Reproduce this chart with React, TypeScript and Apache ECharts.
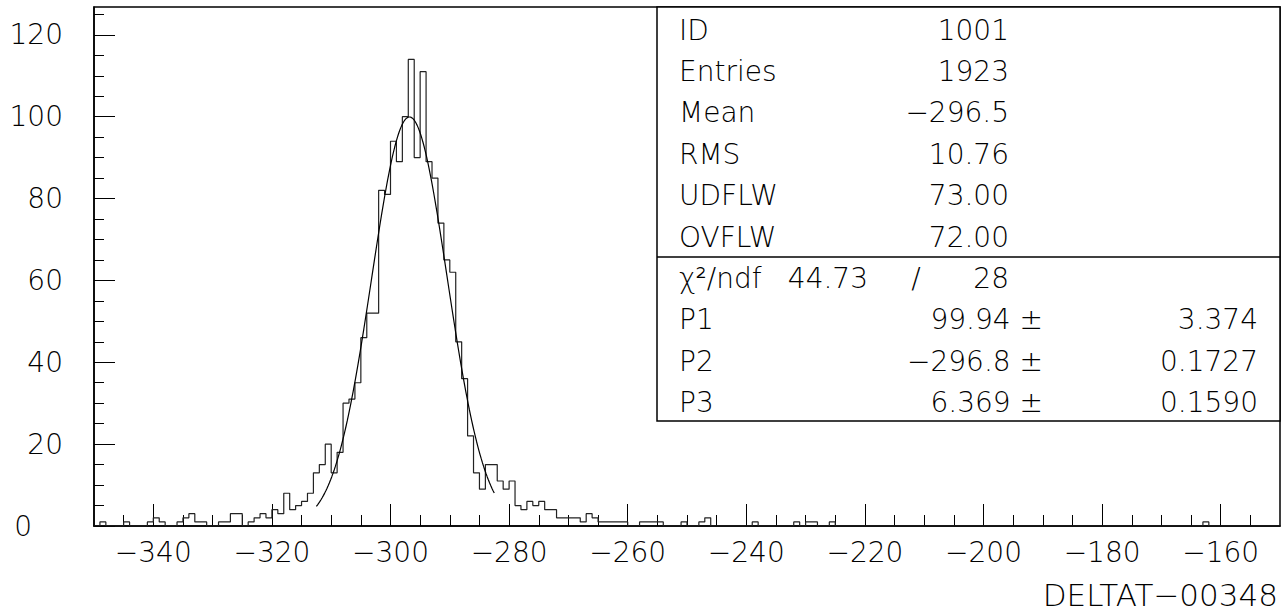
import React, { useEffect, useRef } from "react";
import * as echarts from "echarts";

const X_MIN = -350;
const X_MAX = -150;
const BIN_WIDTH = 1;
const Y_MAX = 126.8;

// bin contents, one per unit bin from -350 to -150
const counts = [
  0, 1, 0, 0, 0, 1, 0, 0, 0, 1,
  2, 1, 0, 0, 1, 2, 3, 1, 1, 0,
  0, 1, 1, 3, 3, 0, 1, 2, 3, 2,
  4, 3, 8, 4, 5, 6, 8, 13, 15, 20,
  13, 18, 30, 31, 35, 46, 52, 52, 82, 81,
  94, 89, 100, 114, 90, 111, 89, 85, 74, 65,
  62, 45, 36, 22, 13, 9, 15, 15, 11, 9,
  11, 5, 4, 6, 5, 6, 4, 4, 2, 2,
  2, 2, 1, 3, 2, 1, 1, 1, 1, 1,
  0, 0, 1, 1, 1, 1, 0, 0, 0, 1,
  0, 0, 1, 2, 0, 0, 0, 0, 0, 0,
  0, 1, 0, 0, 0, 0, 0, 0, 1, 0,
  1, 1, 0, 0, 1, 0, 0, 0, 0, 0,
  0, 0, 0, 0, 0, 0, 0, 0, 0, 0,
  0, 0, 0, 0, 0, 0, 0, 0, 0, 0,
  0, 0, 0, 0, 0, 0, 0, 0, 0, 0,
  0, 0, 0, 0, 0, 0, 0, 0, 0, 0,
  0, 0, 0, 0, 0, 0, 0, 0, 0, 0,
  0, 0, 0, 0, 0, 0, 0, 1, 0, 0,
  0, 0, 0, 0, 0, 0, 0, 0, 0, 0,
];

const xMajorTicks = [-340, -320, -300, -280, -260, -240, -220, -200, -180, -160];
const xMinorTicks = [
  -345, -335, -330, -325, -315, -310, -305, -295, -290, -285, -275, -270, -265,
  -255, -250, -245, -235, -230, -225, -215, -210, -205, -195, -190, -185, -175,
  -170, -165, -155,
];
const yMajorTicks = [0, 20, 40, 60, 80, 100, 120];
const yMinorTicks = [5, 10, 15, 25, 30, 35, 45, 50, 55, 65, 70, 75, 85, 90, 95, 105, 110, 115, 125];

// fit parameters printed in the stats box (Gaussian P1*exp(-0.5*((x-P2)/P3)^2))
const P1 = 99.94;
const P2 = -296.8;
const P3 = 6.369;
const fitFrom = -312.5;
const fitTo = -282.5;

const statLabels = ["ID", "Entries", "Mean", "RMS", "UDFLW", "OVFLW"];
const statValues = ["1001", "1923", "\u2212296.5", "10.76", "73.00", "72.00"];
const chi2Value = "44.73";
const ndfValue = "28";
const parLabels = ["P1", "P2", "P3"];
const parValues = ["99.94", "\u2212296.8", "6.369"];
const parErrors = ["3.374", "0.1727", "0.1590"];
const xTitle = "DELTAT\u221200348";

const FONT = "'DejaVu Sans', sans-serif";

export default function App() {
  const ref = useRef<HTMLDivElement>(null);

  useEffect(() => {
    if (!ref.current) return;
    const chart = echarts.init(ref.current, undefined, { renderer: "svg" });

    const histData: [number, number][] = counts.map((c, i) => [X_MIN + i * BIN_WIDTH, c]);
    histData.push([X_MAX, counts[counts.length - 1]]);

    const fitData: [number, number][] = [];
    const nFit = 150;
    for (let k = 0; k <= nFit; k++) {
      const x = fitFrom + ((fitTo - fitFrom) * k) / nFit;
      fitData.push([x, P1 * Math.exp(-0.5 * ((x - P2) / P3) ** 2)]);
    }

    const textStyle = (text: string, x: number, y: number, align: string) => ({
      type: "text",
      x,
      y,
      style: {
        text,
        fontFamily: FONT,
        fontSize: 28,
        fontWeight: 200,
        fill: "#000",
        align,
        verticalAlign: "middle",
      },
      z: 10,
    });

    const rowY0 = 30;
    const rowStep = 41.4;
    const graphics: any[] = [
      {
        type: "rect",
        shape: { x: 657, y: 7, width: 623, height: 414 },
        style: { fill: "#fff", stroke: "#000", lineWidth: 1.5 },
        z: 5,
      },
      {
        type: "line",
        shape: { x1: 657, y1: 257, x2: 1280, y2: 257 },
        style: { stroke: "#000", lineWidth: 1.5 },
        z: 6,
      },
    ];
    statLabels.forEach((lab, i) => {
      graphics.push(textStyle(lab, 679, rowY0 + i * rowStep, "left"));
      graphics.push(textStyle(statValues[i], 1009, rowY0 + i * rowStep, "right"));
    });
    const chiY = rowY0 + 6 * rowStep;
    graphics.push(textStyle("\u03c7\u00b2/ndf", 679, chiY, "left"));
    graphics.push(textStyle(chi2Value, 868, chiY, "right"));
    graphics.push(textStyle("/", 916, chiY, "center"));
    graphics.push(textStyle(ndfValue, 1009, chiY, "right"));
    parLabels.forEach((lab, i) => {
      const y = rowY0 + (7 + i) * rowStep;
      graphics.push(textStyle(lab, 679, y, "left"));
      graphics.push(textStyle(parValues[i] + " \u00b1", 1043, y, "right"));
      graphics.push(textStyle(parErrors[i], 1258, y, "right"));
    });
    graphics.push({
      type: "text",
      x: 1278,
      y: 595,
      style: {
        text: xTitle,
        fontFamily: FONT,
        fontSize: 31,
        fontWeight: 200,
        fill: "#000",
        align: "right",
        verticalAlign: "middle",
      },
    });

    const labelFont = { fontFamily: FONT, fontSize: 28, fontWeight: 200, color: "#000" };

    chart.setOption({
      animation: false,
      backgroundColor: "#fff",
      grid: {
        left: 94,
        right: 6,
        top: 7,
        bottom: 87,
        show: true,
        borderColor: "#000",
        borderWidth: 1.5,
        containLabel: false,
      },
      xAxis: [
        {
          type: "value",
          min: X_MIN,
          max: X_MAX,
          axisLine: { show: true, lineStyle: { color: "#000", width: 1.5 } },
          axisTick: {
            show: true,
            inside: true,
            length: 22,
            customValues: xMajorTicks,
            lineStyle: { color: "#000", width: 1 },
          },
          axisLabel: {
            ...labelFont,
            margin: 12,
            customValues: xMajorTicks,
            formatter: (v: number) => String(v).replace("-", "\u2212"),
          },
          splitLine: { show: false },
        },
        {
          type: "value",
          min: X_MIN,
          max: X_MAX,
          position: "bottom",
          axisLine: { show: false },
          axisTick: {
            show: true,
            inside: true,
            length: 11,
            customValues: xMinorTicks,
            lineStyle: { color: "#000", width: 1 },
          },
          axisLabel: { show: false },
          splitLine: { show: false },
        },
      ],
      yAxis: [
        {
          type: "value",
          min: 0,
          max: Y_MAX,
          axisLine: { show: true, lineStyle: { color: "#000", width: 1.5 } },
          axisTick: {
            show: true,
            inside: true,
            length: 21,
            customValues: yMajorTicks,
            lineStyle: { color: "#000", width: 1 },
          },
          axisLabel: {
            ...labelFont,
            margin: 31,
            customValues: yMajorTicks,
            formatter: (v: number) => (v === 0 ? "{z|0}" : String(v)),
            rich: {
              z: { ...labelFont, padding: [0, 31, 0, 0] },
            },
          },
          splitLine: { show: false },
        },
        {
          type: "value",
          min: 0,
          max: Y_MAX,
          position: "left",
          axisLine: { show: false },
          axisTick: {
            show: true,
            inside: true,
            length: 10,
            customValues: yMinorTicks,
            lineStyle: { color: "#000", width: 1 },
          },
          axisLabel: { show: false },
          splitLine: { show: false },
        },
      ],
      series: [
        {
          type: "line",
          name: "histogram",
          step: "end",
          data: histData,
          symbol: "none",
          lineStyle: { color: "#222", width: 1.2 },
          z: 3,
        },
        {
          type: "line",
          name: "fit",
          data: fitData,
          symbol: "none",
          smooth: false,
          lineStyle: { color: "#000", width: 1.2 },
          z: 4,
        },
      ],
      graphic: graphics,
    });

    return () => chart.dispose();
  }, []);

  return (
    <div
      ref={ref}
      style={{ position: "fixed", left: 0, top: 0, width: 1286, height: 613, background: "#fff" }}
    />
  );
}
